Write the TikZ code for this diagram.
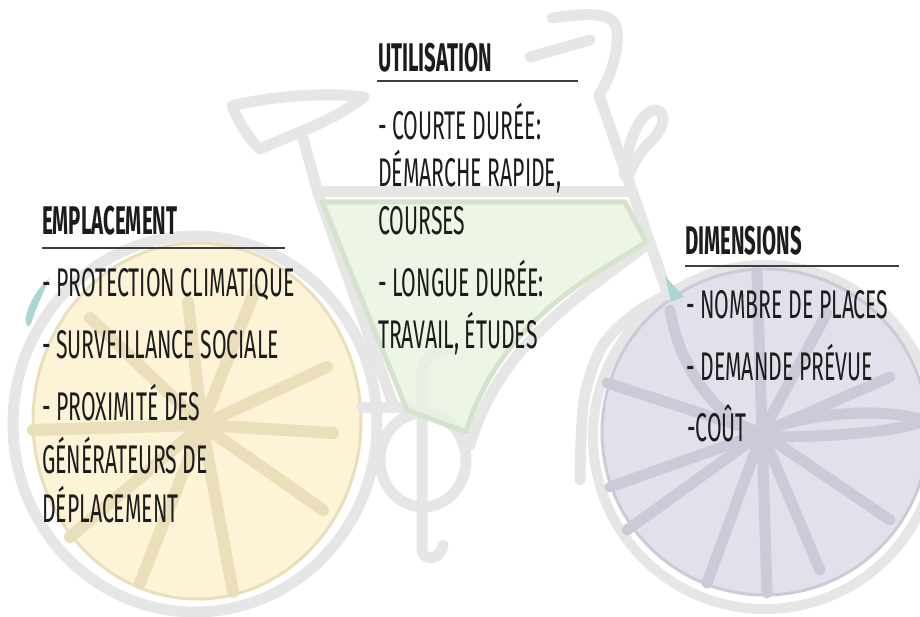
\documentclass[tikz,border=0pt]{standalone}
\usepackage{fontspec}
\newfontfamily\bodyfont{Fira Sans}[FakeStretch=0.53]
\newfontfamily\headfont{Fira Sans}[FakeStretch=0.51]
\definecolor{bikegrey}{HTML}{E6E6E6}
\definecolor{yellowfill}{HTML}{FDF3D6}
\definecolor{tanline}{HTML}{EADEBB}
\definecolor{purplefill}{HTML}{E1E1EC}
\definecolor{purpleline}{HTML}{CACAD8}
\definecolor{greenfill}{HTML}{E8F3E1}
\definecolor{greenline}{HTML}{D4E3CB}
\definecolor{tealmark}{HTML}{A9D6D3}
\definecolor{ink}{HTML}{1C1C1C}
\begin{document}
\begin{tikzpicture}[x=1pt,y=-1pt,
  bike/.style={draw=bikegrey,line width=11pt,line cap=round,line join=round},
  tanspoke/.style={draw=tanline,line width=12pt,line cap=round},
  purplespoke/.style={draw=purpleline,line width=11pt,line cap=round},
  txt/.style={anchor=base west,inner sep=0pt,text=ink,font=\bodyfont\fontsize{40}{42}\selectfont},
  head/.style={anchor=base west,inner sep=0pt,text=ink,font=\headfont\bfseries\fontsize{40}{42}\selectfont},
  rule/.style={draw=ink!85,line width=1.2pt}]
\useasboundingbox (0,0) rectangle (920,617);

% rear wheel
\draw[draw=bikegrey,line width=11pt] (195,424) ellipse [x radius=182pt,y radius=188pt];
\filldraw[fill=yellowfill,draw=tanline,line width=3pt] (197,421) ellipse [x radius=164pt,y radius=178pt];
\foreach \a/\b in {33/430,333/433,327/367,323/510,70/537,140/583,233/592,90/318,188/302,255/290}
  \draw[tanspoke] (202,425) -- (\a,\b);
\fill[tealmark] (49,279) .. controls (44,292) and (37,305) .. (33,318) .. controls (30,330) and (24,328) .. (26,316) .. controls (30,300) and (38,288) .. cycle;

% front wheel
\draw[draw=bikegrey,line width=10pt] (765,437) circle [radius=172pt];
\draw[bike] plot[smooth] coordinates {(580,480) (584,400) (603,345) (640,310) (690,285) (745,268)};
\filldraw[fill=purplefill,draw=purpleline,line width=3pt] (765,432) circle [radius=163pt];
\foreach \a/\b in {607/383,610/487,627/530,707/583,767/593,820/570,890/520,890/377,757/273,827/313}
  \draw[purplespoke] (762,433) -- (\a,\b);
\draw[purplespoke] (765,430) .. controls (830,408) and (895,410) .. (925,421) .. controls (895,432) and (830,437) .. (770,437);
\draw[purplespoke] (670,310) .. controls (680,370) and (715,415) .. (760,435);

% frame
\draw[bike] (232,106) .. controls (270,96) and (330,92) .. (364,97) .. controls (345,112) and (320,124) .. (300,132) -- (260,149) .. controls (250,140) and (240,125) .. cycle;
\draw[bike] (303,138) -- (318,193) -- (393,404);
\draw[bike] (318,192) -- (628,192);
\draw[bike] (362,407) -- (410,407);
\draw[bike] (646,245) .. controls (590,290) and (500,340) .. (470,445);
\draw[bike] (530,57) -- (590,40);
\draw[bike] (552,18) .. controls (580,14) and (605,12) .. (614,22) .. controls (622,35) and (615,70) .. (599,95) -- (668,295);
\draw[bike] (624,175) .. controls (628,140) and (640,112) .. (655,110) .. controls (668,110) and (664,130) .. (650,142) .. controls (640,152) and (632,165) .. (628,178);
\draw[bike] (423,460) ellipse [x radius=43pt,y radius=47pt];
\draw[bike] (451,349) .. controls (435,350) and (422,358) .. (422,375) -- (422,550) .. controls (422,560) and (440,562) .. (443,545);

% frame triangle
\filldraw[fill=greenfill,fill opacity=0.8,draw=greenline,line width=5pt,line join=round]
  (322,202) -- (625,202) -- (646,242) .. controls (595,275) and (500,320) .. (466,432) -- (407,410) -- cycle;
\fill[tealmark] (665,276) -- (671,302) -- (684,297) -- cycle;

% texts
\node[head] (emp) at (42,235) {EMPLACEMENT};
\draw[rule] (42,248) -- (285,248);
\node[txt] (emp1) at (42,297) {- PROTECTION CLIMATIQUE};
\node[txt] (emp2) at (42,358) {- SURVEILLANCE SOCIALE};
\node[txt] (emp3) at (42,420) {- PROXIMITÉ DES};
\node[txt] (emp4) at (42,473) {GÉNÉRATEURS DE};
\node[txt] (emp5) at (42,522) {DÉPLACEMENT};

\node[head] (uti) at (378,72) {UTILISATION};
\draw[rule] (377,81) -- (578,81);
\node[txt] (uti1) at (378,140) {- COURTE DURÉE:};
\node[txt] (uti2) at (378,187) {DÉMARCHE RAPIDE,};
\node[txt] (uti3) at (378,235) {COURSES};
\node[txt] (uti4) at (378,297) {- LONGUE DURÉE:};
\node[txt] (uti5) at (378,348) {TRAVAIL, ÉTUDES};

\node[head] (dim) at (685,255) {DIMENSIONS};
\draw[rule] (685,266) -- (899,266);
\node[txt] (dim1) at (686,318) {- NOMBRE DE PLACES};
\node[txt] (dim2) at (686,380) {- DEMANDE PRÉVUE};
\node[txt] (dim3) at (687,441) {-COÛT};
\end{tikzpicture}
\end{document}
